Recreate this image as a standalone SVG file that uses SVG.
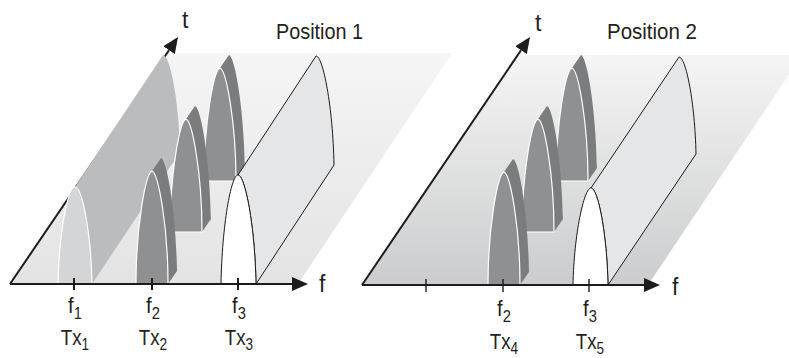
<svg xmlns="http://www.w3.org/2000/svg" xmlns:xlink="http://www.w3.org/1999/xlink" width="789" height="358" viewBox="0 0 789 358">
<style>
.axis{stroke:#1d1b1c;stroke-width:2;fill:none}
.tick{stroke:#1d1b1c;stroke-width:2}
.tick2{stroke:#1d1b1c;stroke-width:1.4}
.lbl{font-family:"Liberation Sans",Arial,sans-serif;fill:#231f20}
.finside{fill:#7b7c7e;stroke:none}
.finface{fill:#8f9092;stroke:#ffffff;stroke-width:1.2}
.band1{fill:#bbbcbe}
.arch1{fill:#d4d5d7;stroke:#ffffff;stroke-width:1.2}
.band3{fill:#e5e6e8;stroke:#1d1b1c;stroke-width:1}
.arch3{fill:#ffffff;stroke:#1d1b1c;stroke-width:1}
</style>
<defs>
<linearGradient id="gL" x1="0" y1="53" x2="0" y2="284" gradientUnits="userSpaceOnUse">
<stop offset="0" stop-color="#f5f5f5"/><stop offset="1" stop-color="#e3e3e4"/>
</linearGradient>
<linearGradient id="gR" x1="0" y1="55" x2="0" y2="285" gradientUnits="userSpaceOnUse">
<stop offset="0" stop-color="#f5f5f5"/><stop offset="1" stop-color="#cbcccd"/>
</linearGradient>
<marker id="ah" viewBox="0 0 16 14" markerUnits="userSpaceOnUse" markerWidth="16" markerHeight="14" refX="0" refY="7" orient="auto">
<path d="M0,0 L16,7 L0,14 Z" fill="#1d1b1c"/>
</marker>
<g id="fin">
<path class="finside" d="M0,-113 L9,-126 C15,-124 24,-73 25,-13 L16,0 C15,-60 6,-111 0,-113 Z"/>
<path class="finface" d="M-16,0 C-16,-60 -6,-111 0,-113 C6,-111 16,-60 16,0 Z"/>
</g>
</defs>

<!-- floor planes -->
<g id="plane1"><polygon points="10,284 298,284 452,53 167,53" fill="url(#gL)"/></g>
<g id="plane2"><polygon points="362,285 648,285 802,55 518,55" fill="url(#gR)"/></g>

<!-- time axes (left one lies under the Tx1 band) -->
<g id="axes-t">
<line class="axis" x1="10" y1="284" x2="169" y2="50.2" marker-end="url(#ah)"/>
<line class="axis" x1="362" y1="285" x2="521" y2="50.2" marker-end="url(#ah)"/>
</g>

<!-- Position 1 -->
<g id="tx1">
<path class="band1" d="M75,187 L163,55 C170,55 179,100 180,152 L92,284 C91,232 82,187 75,187 Z"/>
<path class="arch1" d="M58,284 C59,232 68,187 75,187 C82,187 91,232 92,284 Z"/>
</g>
<g id="tx2-back"><use xlink:href="#fin" transform="translate(220,181)"/></g>
<g id="tx2-mid"><use xlink:href="#fin" transform="translate(186,232)"/></g>
<g id="tx2-front"><use xlink:href="#fin" transform="translate(152,284)"/></g>
<g id="tx3">
<path class="band3" d="M238,175 L316,56 C323,56 333,107 334,165 L256,284 C255,226 245,175 238,175 Z"/>
<path class="arch3" d="M221,284 C222,226 231,175 238,175 C245,175 255,226 256,284 Z"/>
</g>

<!-- Position 2 -->
<g id="tx4-back"><use xlink:href="#fin" transform="translate(572,181)"/></g>
<g id="tx4-mid"><use xlink:href="#fin" transform="translate(538,232)"/></g>
<g id="tx4-front"><use xlink:href="#fin" transform="translate(504,285)"/></g>
<g id="tx5">
<path class="band3" d="M591,188 L679,57 C686,57 695,103 696,154 L608,285 C607,234 598,188 591,188 Z"/>
<path class="arch3" d="M573,285 C574,234 584,188 591,188 C598,188 607,234 608,285 Z"/>
</g>

<!-- frequency axes and ticks -->
<g id="axes-f">
<line class="axis" x1="10" y1="284" x2="292" y2="284" marker-end="url(#ah)"/>
<line class="tick" x1="74" y1="278" x2="74" y2="290"/>
<line class="tick" x1="152" y1="278" x2="152" y2="290"/>
<line class="tick" x1="238" y1="278" x2="238" y2="290"/>
<line class="axis" x1="362" y1="285" x2="644" y2="285" marker-end="url(#ah)"/>
<line class="tick2" x1="426" y1="279" x2="426" y2="292"/>
<line class="tick2" x1="503" y1="279" x2="503" y2="292"/>
<line class="tick2" x1="589" y1="279" x2="589" y2="292"/>
</g>

<!-- labels -->
<g id="labels">
<text class="lbl" x="182" y="28" font-size="23">t</text>
<text class="lbl" x="535" y="31" font-size="23">t</text>
<text class="lbl" x="319" y="292" font-size="23">f</text>
<text class="lbl" x="672" y="295" font-size="23">f</text>
<text class="lbl" x="276" y="39" font-size="22" textLength="87" lengthAdjust="spacingAndGlyphs">Position 1</text>
<text class="lbl" x="607" y="39" font-size="22" textLength="90" lengthAdjust="spacingAndGlyphs">Position 2</text>

<text class="lbl" transform="translate(75,313) scale(0.92,1)" text-anchor="middle" font-size="22">f<tspan font-size="16" dy="6">1</tspan></text>
<text class="lbl" transform="translate(153,313) scale(0.92,1)" text-anchor="middle" font-size="22">f<tspan font-size="16" dy="6">2</tspan></text>
<text class="lbl" transform="translate(239,313) scale(0.92,1)" text-anchor="middle" font-size="22">f<tspan font-size="16" dy="6">3</tspan></text>
<text class="lbl" transform="translate(75,345) scale(0.85,1)" text-anchor="middle" font-size="22">Tx<tspan font-size="16" dy="5">1</tspan></text>
<text class="lbl" transform="translate(153,345) scale(0.85,1)" text-anchor="middle" font-size="22">Tx<tspan font-size="16" dy="5">2</tspan></text>
<text class="lbl" transform="translate(239,345) scale(0.85,1)" text-anchor="middle" font-size="22">Tx<tspan font-size="16" dy="5">3</tspan></text>

<text class="lbl" transform="translate(504,316) scale(0.92,1)" text-anchor="middle" font-size="22">f<tspan font-size="16" dy="6">2</tspan></text>
<text class="lbl" transform="translate(590,316) scale(0.92,1)" text-anchor="middle" font-size="22">f<tspan font-size="16" dy="6">3</tspan></text>
<text class="lbl" transform="translate(504,349) scale(0.85,1)" text-anchor="middle" font-size="22">Tx<tspan font-size="16" dy="5">4</tspan></text>
<text class="lbl" transform="translate(590,349) scale(0.85,1)" text-anchor="middle" font-size="22">Tx<tspan font-size="16" dy="5">5</tspan></text>
</g>
</svg>
